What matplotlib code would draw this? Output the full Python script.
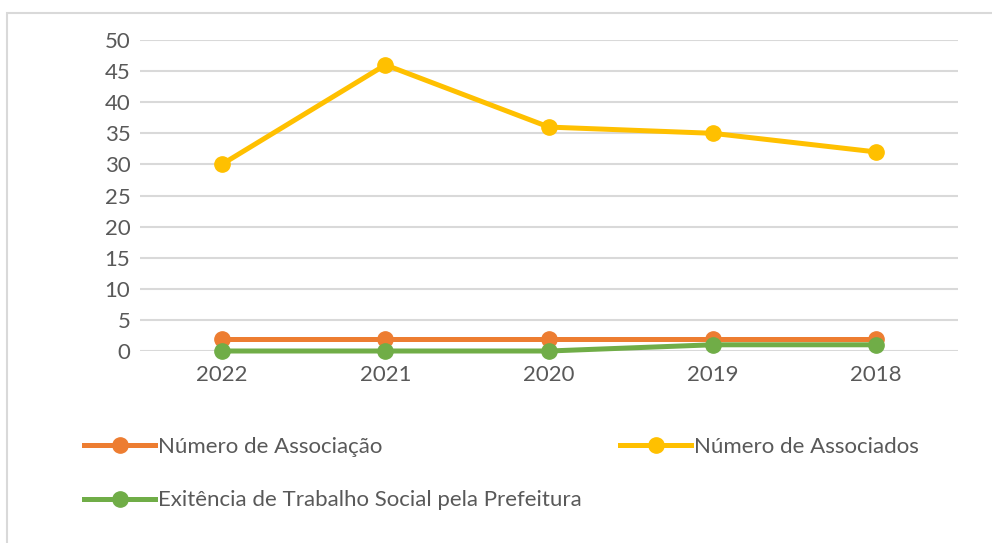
import matplotlib
matplotlib.use('Agg')
import matplotlib.pyplot as plt
from matplotlib.patches import Rectangle

years = ['2022', '2021', '2020', '2019', '2018']
n_associacao = [2, 2, 2, 2, 2]
n_associados = [30, 46, 36, 35, 32]
trabalho_social = [0, 0, 0, 1, 1]

lbl_associacao = 'Número de Associação'
lbl_associados = 'Número de Associados'
lbl_social = 'Exitência de Trabalho Social pela Prefeitura'

plt.rcParams['font.family'] = ['Lato', 'DejaVu Sans']
txt_color = '#595959'
grid_color = '#d9d9d9'
fs = 16

fig = plt.figure(figsize=(9.92, 5.43), dpi=100)
ax = fig.add_axes([140/992, 1-351/543, 818/992, 311/543])

x = list(range(len(years)))
kw = dict(lw=3.6, marker='o', ms=11, clip_on=False)
l1, = ax.plot(x, n_associacao, color='#ed7d31', label=lbl_associacao, zorder=3, **kw)
l2, = ax.plot(x, n_associados, color='#ffc000', label=lbl_associados, zorder=3, **kw)
l3, = ax.plot(x, trabalho_social, color='#70ad47', label=lbl_social, zorder=4, **kw)

ax.set_xlim(-0.5, len(years)-0.5)
ax.set_ylim(0, 50)
ax.set_yticks(range(0, 51, 5))
ax.set_xticks(x)
ax.set_xticklabels(years)
ax.yaxis.grid(True, color=grid_color, lw=1.5)
ax.set_axisbelow(True)
for s in ax.spines.values():
    s.set_visible(False)
ax.tick_params(length=0, labelsize=fs, colors=txt_color, pad=7)
ax.tick_params(axis='x', pad=10)

# outer chart border
fig.patches.append(Rectangle((7/992, -0.05), 1.0, 1-13/543+0.05, transform=fig.transFigure,
                             fill=False, edgecolor=grid_color, lw=1.5))

leg = fig.legend([l1, l3, l2], [lbl_associacao, lbl_social, lbl_associados], ncol=2,
                 loc='upper left', bbox_to_anchor=(84/992, 1-437/543), frameon=False,
                 fontsize=fs, handlelength=3.2, handletextpad=0.15, columnspacing=1.7,
                 labelspacing=1.5, borderaxespad=0, borderpad=0)
for t in leg.get_texts():
    t.set_color(txt_color)

fig.savefig('out.png', dpi=100)
